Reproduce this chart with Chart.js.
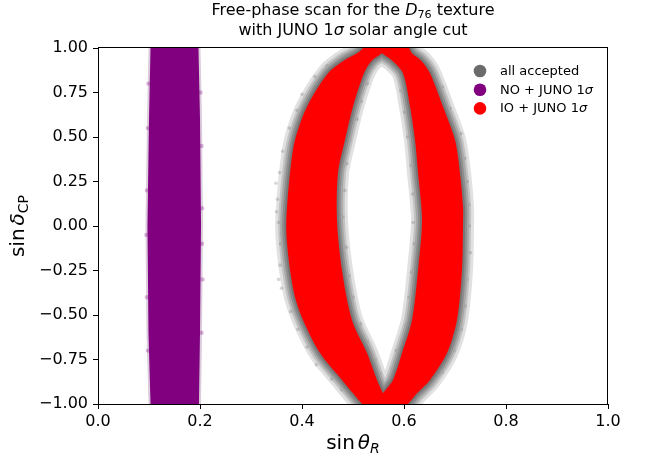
<!DOCTYPE html>
<html>
<head>
<meta charset="utf-8">
<script src="https://cdn.jsdelivr.net/npm/chart.js@4.4.1/dist/chart.umd.min.js"></script>
<style>
  html, body { margin: 0; padding: 0; background: #fff; }
  #wrap { width: 651px; height: 459px; position: relative; }
</style>
</head>
<body>
<div id="wrap"><canvas id="c" width="651" height="459"></canvas></div>
<script>
// ---------- data ----------
// outline of the left IO band: outer edge top->bottom, then inner edge bottom->top
const ioLeftX  = [0.5275, 0.5078, 0.4824, 0.4510, 0.4098, 0.3863, 0.3765, 0.3706, 0.3690, 0.3706, 0.3765, 0.3863, 0.4020, 0.4353, 0.4784, 0.5000, 0.5275,
                  0.5725, 0.5588, 0.5471, 0.5275, 0.4980, 0.4784, 0.4686, 0.4706, 0.4843, 0.5000, 0.5216, 0.5373, 0.5569, 0.5725];
const ioLeftY  = [1.02, 0.97, 0.93, 0.858, 0.67, 0.483, 0.297, 0.108, 0.0, -0.1, -0.247, -0.40, -0.528, -0.714, -0.865, -0.94, -1.02,
                  -1.02, -0.94, -0.865, -0.714, -0.528, -0.247, 0.034, 0.297, 0.483, 0.67, 0.858, 0.93, 0.97, 1.02];
// outline of the right IO band: outer edge top->bottom, then inner edge bottom->top
const ioRightX = [0.6078, 0.6157, 0.6333, 0.6510, 0.6765, 0.7000, 0.7098, 0.7157, 0.7157, 0.7137, 0.7039, 0.6843, 0.6510, 0.6255, 0.5980,
                  0.5431, 0.5588, 0.5784, 0.5961, 0.6157, 0.6275, 0.6353, 0.6275, 0.6216, 0.6118, 0.5980, 0.5765, 0.5569, 0.5431];
const ioRightY = [1.02, 0.97, 0.93, 0.858, 0.67, 0.483, 0.297, 0.108, 0.0, -0.247, -0.528, -0.714, -0.865, -0.94, -1.02,
                  -1.02, -0.94, -0.865, -0.714, -0.528, -0.247, 0.034, 0.297, 0.483, 0.67, 0.858, 0.93, 0.97, 1.02];
// outline of the NO strip
const noX = [0.104, 0.103, 0.100, 0.097, 0.099, 0.103, 0.104, 0.197, 0.198, 0.200, 0.202, 0.200, 0.197, 0.196];
const noY = [1.05, 1.0, 0.6, 0.0, -0.6, -1.0, -1.05, -1.05, -1.0, -0.6, 0.0, 0.6, 1.0, 1.05];
// sparse "all accepted" points just outside the IO bands
const fuzzX = [0.354,0.358,0.352,0.357,0.356,0.360,0.362,0.378,0.375,0.392,0.390,0.410,0.400,0.428,0.425,0.458,0.450,0.478,0.350,0.360,0.349,0.354,
               0.480,0.487,0.484,0.492,0.488,0.500,0.494,0.515,0.508,0.528,0.516,0.543,0.528,0.553,
               0.728,0.727,0.730,0.724,0.723,0.719,0.720,0.712,0.712,0.690,0.698,0.675,0.675,0.655,
               0.618,0.620,0.617,0.615,0.614,0.610,0.607,0.603,0.601,0.585,0.594,0.577];
const fuzzY = [0.02,-0.10,0.15,-0.22,0.30,-0.35,0.42,-0.48,0.55,-0.58,0.65,-0.68,0.74,-0.78,0.84,-0.86,0.90,-0.92,0.08,-0.04,0.24,-0.30,
               0.05,-0.12,0.20,-0.28,0.35,-0.40,0.48,-0.55,0.60,-0.65,0.70,-0.75,0.80,-0.83,
               0.00,0.12,-0.15,0.25,-0.30,0.38,-0.45,0.52,-0.58,0.66,-0.70,0.78,-0.82,0.88,
               0.02,-0.10,0.18,-0.26,0.34,-0.40,0.50,-0.56,0.64,-0.70,0.76,-0.80];
// sparse NO points on the strip edges
const noFuzzX = [0.098,0.096,0.095,0.096,0.098,0.099,0.203,0.204,0.205,0.203,0.201,0.204];
const noFuzzY = [0.55,0.20,-0.05,-0.40,-0.70,0.80,0.45,0.10,-0.30,-0.60,0.75,-0.10];

const xTicks = [0, 0.2, 0.4, 0.6, 0.8, 1.0];
const yTicks = [-1, -0.75, -0.5, -0.25, 0, 0.25, 0.5, 0.75, 1];
const legendLabels = ['all accepted', 'NO + JUNO 1σ', 'IO + JUNO 1σ'];

// ---------- styles ----------
const FONT = "'DejaVu Sans', sans-serif";
const legendColors = ['#6b6b6b', '#800080', '#ff0000'];
const haloLayers = [[4, '#777777'], [8, '#8d8d8d'], [12, '#a7a7a7'], [16, '#c3c3c3'], [22, '#e1e1e1']];
const bandTension = 0.3;

const pts = (xs, ys) => xs.map((x, i) => ({ x: x, y: ys[i] }));
const loop = (xs, ys) => pts(xs.concat([xs[0]]), ys.concat([ys[0]]));
function area(label, xs, ys, color, tension) {
  return { label: label, data: pts(xs, ys), showLine: true, fill: 'shape', backgroundColor: color,
           borderColor: 'rgba(0,0,0,0)', borderWidth: 0, pointRadius: 0, pointHoverRadius: 0, tension: tension, clip: 0 };
}
function halo(label, xs, ys, color, w, tension) {
  return { label: label, data: loop(xs, ys), showLine: true, fill: false, borderColor: color, borderWidth: w,
           borderJoinStyle: 'round', borderCapStyle: 'round', pointRadius: 0, pointHoverRadius: 0, tension: tension, clip: 0 };
}
function dots(label, xs, ys, color, r) {
  return { label: label, data: pts(xs, ys), showLine: false, pointRadius: r, pointBorderWidth: 0,
           pointHoverRadius: 0, backgroundColor: color, borderColor: color, clip: 0 };
}

function drawRich(ctx, runs, cx, base, size, align) {
  const parts = runs.map(r => {
    if (r.gap) return { w: r.gap };
    const fs = r.sub ? size * 0.7 : size;
    const font = (r.it ? 'italic ' : '') + fs + 'px ' + FONT;
    ctx.font = font;
    return { t: r.t, font: font, w: ctx.measureText(r.t).width, dy: r.sub ? size * 0.22 : 0 };
  });
  const total = parts.reduce((s, p) => s + p.w, 0);
  let x = align === 'left' ? cx : cx - total / 2;
  ctx.textAlign = 'left';
  for (const p of parts) {
    if (p.t) { ctx.font = p.font; ctx.fillText(p.t, x, base + p.dy); }
    x += p.w;
  }
}
function sigmaRuns(s) {
  const out = [];
  s.split('σ').forEach((piece, i, arr) => {
    if (piece) out.push({ t: piece });
    if (i < arr.length - 1) out.push({ t: 'σ', it: true });
  });
  return out;
}

const decorations = {
  id: 'decorations',
  afterDraw(chart) {
    const ctx = chart.ctx, a = chart.chartArea;
    ctx.save();
    ctx.strokeStyle = '#000'; ctx.lineWidth = 1;
    ctx.strokeRect(Math.round(a.left) + 0.5, Math.round(a.top) - 0.5, Math.round(a.right - a.left) - 1, Math.round(a.bottom - a.top) + 1);
    ctx.fillStyle = '#000';
    ctx.textBaseline = 'alphabetic';
    const cx = (a.left + a.right) / 2;
    drawRich(ctx, [{ t: 'Free-phase scan for the ' }, { t: 'D', it: true }, { t: '76', sub: true }, { t: ' texture' }], cx, 14.5, 16);
    drawRich(ctx, [{ t: 'with JUNO 1' }, { t: 'σ', it: true }, { t: ' solar angle cut' }], cx, 35, 16);
    drawRich(ctx, [{ t: 'sin' }, { gap: 3 }, { t: 'θ', it: true }, { t: 'R', it: true, sub: true }], cx, 449, 20);
    ctx.save();
    ctx.translate(24, (a.top + a.bottom) / 2);
    ctx.rotate(-Math.PI / 2);
    drawRich(ctx, [{ t: 'sin' }, { gap: 3 }, { t: 'δ', it: true }, { t: 'CP', sub: true }], 0, 0, 20);
    ctx.restore();
    const lx = a.right - 128, ly0 = a.top + 23, dy = 18.7;
    legendLabels.forEach((lab, i) => {
      const y = ly0 + i * dy;
      ctx.beginPath(); ctx.fillStyle = legendColors[i];
      ctx.arc(lx, y, 6.3, 0, Math.PI * 2); ctx.fill();
      ctx.fillStyle = '#000'; ctx.textBaseline = 'middle';
      drawRich(ctx, sigmaRuns(lab), lx + 20, y + 0.5, 13, 'left');
    });
    ctx.restore();
  }
};

const ds = [
  area('NO + JUNO 1σ', noX, noY, '#800080', 0),
  dots('NO edge', noFuzzX, noFuzzY, 'rgba(128,0,128,0.3)', 2.2),
  area('IO + JUNO 1σ', ioLeftX, ioLeftY, '#ff0000', bandTension),
  area('IO + JUNO 1σ (r)', ioRightX, ioRightY, '#ff0000', bandTension)
];
haloLayers.forEach(([w, c], k) => {
  ds.push(halo('all accepted L' + k, ioLeftX, ioLeftY, c, w, bandTension));
  ds.push(halo('all accepted R' + k, ioRightX, ioRightY, c, w, bandTension));
  if (k === 2) ds.push(dots('all accepted', fuzzX, fuzzY, 'rgba(120,120,120,0.3)', 1.8));
});
ds.push(halo('all accepted NO', noX, noY, '#dccbdc', 4, 0));

const tickFont = { family: FONT, size: 16 };
new Chart(document.getElementById('c'), {
  type: 'scatter',
  data: { datasets: ds },
  options: {
    responsive: false, animation: false, devicePixelRatio: 1,
    layout: { padding: { top: 48, right: 43, left: 0, bottom: 0 } },
    plugins: { legend: { display: false }, title: { display: false }, tooltip: { enabled: false } },
    scales: {
      x: {
        type: 'linear', min: 0, max: 1,
        afterBuildTicks: s => { s.ticks = xTicks.map(v => ({ value: v })); },
        afterFit: s => { s.height = 55; },
        ticks: { font: tickFont, color: '#000', padding: 3, maxRotation: 0, autoSkip: false, callback: v => v.toFixed(1) },
        grid: { display: true, drawOnChartArea: false, drawTicks: true, tickLength: 5, color: '#000', lineWidth: 1 },
        border: { display: false }
      },
      y: {
        type: 'linear', min: -1, max: 1,
        afterBuildTicks: s => { s.ticks = yTicks.map(v => ({ value: v })); },
        afterFit: s => { s.width = 98; },
        ticks: { font: tickFont, color: '#000', padding: 5, autoSkip: false,
                 callback: v => (v < 0 ? '\u2212' : '') + Math.abs(v).toFixed(2) },
        grid: { display: true, drawOnChartArea: false, drawTicks: true, tickLength: 5, color: '#000', lineWidth: 1 },
        border: { display: false }
      }
    }
  },
  plugins: [decorations]
});
</script>
</body>
</html>
